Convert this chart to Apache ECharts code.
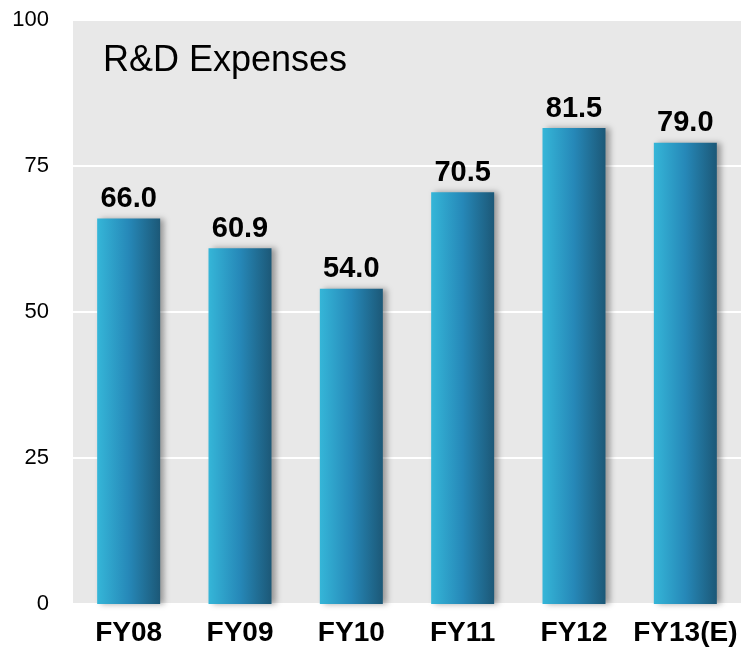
<!DOCTYPE html>
<html>
<head>
<meta charset="utf-8">
<script src="https://cdn.jsdelivr.net/npm/echarts@6/dist/echarts.min.js"></script>
<style>
  html, body { margin: 0; padding: 0; background: #fff; }
  #chart { width: 741px; height: 647px; }
</style>
</head>
<body>
<div id="chart"></div>
<script>
var categories = ['FY08', 'FY09', 'FY10', 'FY11', 'FY12', 'FY13(E)'];
var expenses = [66.0, 60.9, 54.0, 70.5, 81.5, 79.0];
var yTicks = [0, 25, 50, 75, 100];

var myChart = echarts.init(document.getElementById('chart'));

// bar gradient: light cyan on the left, dark blue on the right
var barColor = new echarts.graphic.LinearGradient(0, 0, 1, 0, [
	{ offset: 0, color: '#35b6d8' },
	{ offset: 0.5, color: '#2688b8' },
	{ offset: 1, color: '#1c5877' }
]);

var option = {
	backgroundColor: '#ffffff',
	animation: false,
	title: {
		text: 'R&D Expenses',
		left: 98,
		top: 38,
		textStyle: {
			fontFamily: 'Liberation Sans, Arial, sans-serif',
			fontSize: 36,
			fontWeight: 'normal',
			color: '#000'
		}
	},
	grid: {
		left: 73,
		right: 0,
		top: 20,
		bottom: 43,
		show: true,
		backgroundColor: '#e8e8e8',
		borderWidth: 0
	},
	xAxis: {
		type: 'category',
		data: categories,
		axisLine: { show: false },
		axisTick: { show: false },
		axisLabel: {
			interval: 0,
			margin: 15,
			fontFamily: 'Liberation Sans, Arial, sans-serif',
			fontSize: 28,
			fontWeight: 'bold',
			color: '#000'
		}
	},
	yAxis: {
		type: 'value',
		min: yTicks[0],
		max: yTicks[yTicks.length - 1],
		interval: 25,
		axisLine: { show: false },
		axisTick: { show: false },
		axisLabel: {
			margin: 24,
			fontFamily: 'Liberation Sans, Arial, sans-serif',
			fontSize: 22,
			color: '#000'
		},
		splitLine: { lineStyle: { color: '#ffffff', width: 2 } }
	},
	series: [{
		type: 'bar',
		data: expenses,
		barWidth: 63,
		itemStyle: {
			color: barColor,
			shadowColor: 'rgba(0, 0, 0, 0.35)',
			shadowBlur: 6,
			shadowOffsetX: 4
		},
		label: {
			show: true,
			position: 'top',
			distance: 5,
			formatter: function (p) { return p.value.toFixed(1); },
			fontFamily: 'Liberation Sans, Arial, sans-serif',
			fontSize: 29,
			fontWeight: 'bold',
			color: '#000'
		}
	}]
};

myChart.setOption(option);
</script>
</body>
</html>
